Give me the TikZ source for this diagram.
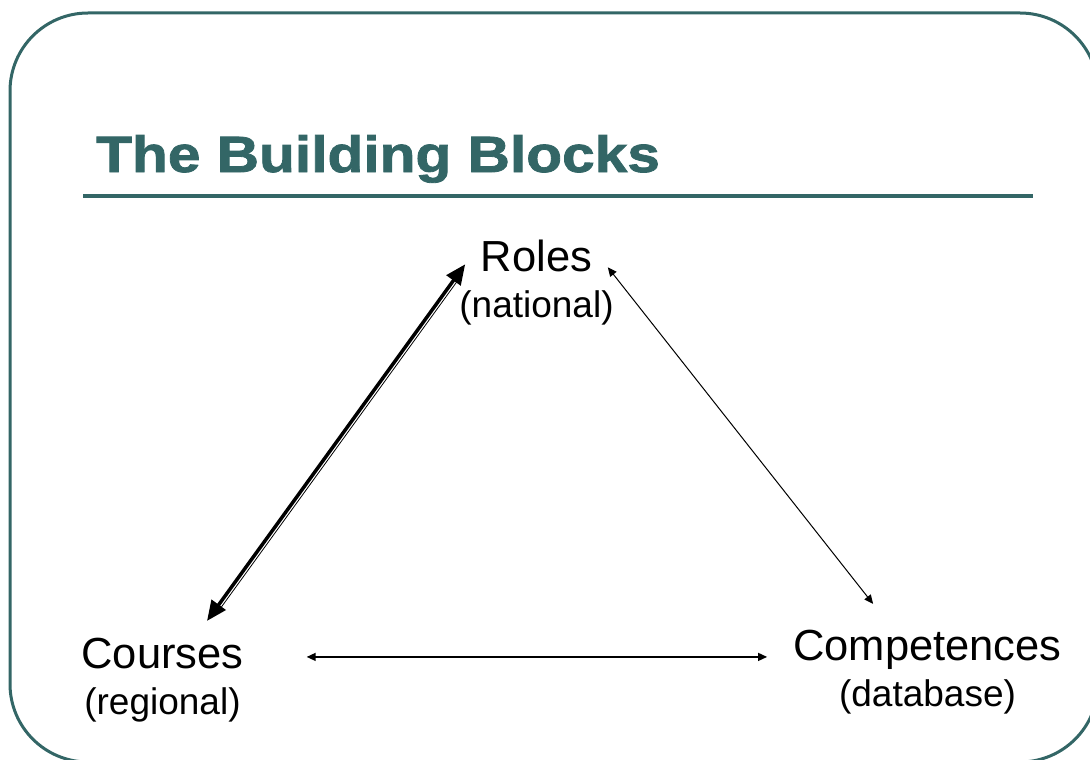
\documentclass[tikz,border=0pt]{standalone}
\usepackage{fontspec}
\setmainfont{Liberation Sans}
\newfontfamily\headfont{Liberation Sans}[FakeBold=1.6,FakeStretch=1.15]
\usetikzlibrary{arrows.meta,positioning}
\definecolor{slide}{HTML}{336666}
\newcommand\subtext[1]{{\fontsize{37}{46}\selectfont #1}}

\begin{document}
\begin{tikzpicture}[x=1pt,y=-1pt,
  block/.style={align=center,inner sep=0pt,anchor=base,font=\fontsize{43.5}{46}\selectfont},
  heavy/.style={line width=3.5pt,{Triangle[length=20pt,width=17pt]}-{Triangle[length=20pt,width=17pt]}},
  light/.style={line width=1pt,{Triangle[length=9pt,width=8pt]}-{Triangle[length=9pt,width=8pt]}},
  flat/.style={line width=1.4pt,{Triangle[length=9pt,width=8pt]}-{Triangle[length=9pt,width=8pt]}}]
\useasboundingbox (0,0) rectangle (1090,760);
\clip (0,0) rectangle (1090,760);
\draw[slide,line width=3pt,rounded corners=78pt] (10,13) rectangle (1098,762);
\node[anchor=base west,inner sep=0pt,text=slide,font=\headfont\bfseries\fontsize{51}{52}\selectfont] (title) at (96,172) {The Building Blocks};
\draw[slide,line width=4pt] (83,196) -- (1033,196);

\node[block] (roles) at (536.5,317) {Roles\\\subtext{(national)}};
\node[block] (courses) at (162.5,714) {Courses\\\subtext{(regional)}};
\node[block] (comp) at (927.5,706) {Competences\\\subtext{(database)}};

\path	([shift={(6,25)}]roles.north west) edge[heavy] ([shift={(44.5,-16.5)}]courses.north)
		([shift={(6,25)}]roles.north west) edge[line width=0.8pt,shorten <=16pt,shorten >=16pt,transform canvas={shift={(2.8pt,-2.1pt)}}] ([shift={(44.5,-16.5)}]courses.north)
		([shift={(-6,28)}]roles.north east) edge[light] ([shift={(80,-25.5)}]comp.north west)
		([shift={(63,19.5)}]courses.north east) edge[flat] ([shift={(-26,27.5)}]comp.north west)
;
\end{tikzpicture}
\end{document}
